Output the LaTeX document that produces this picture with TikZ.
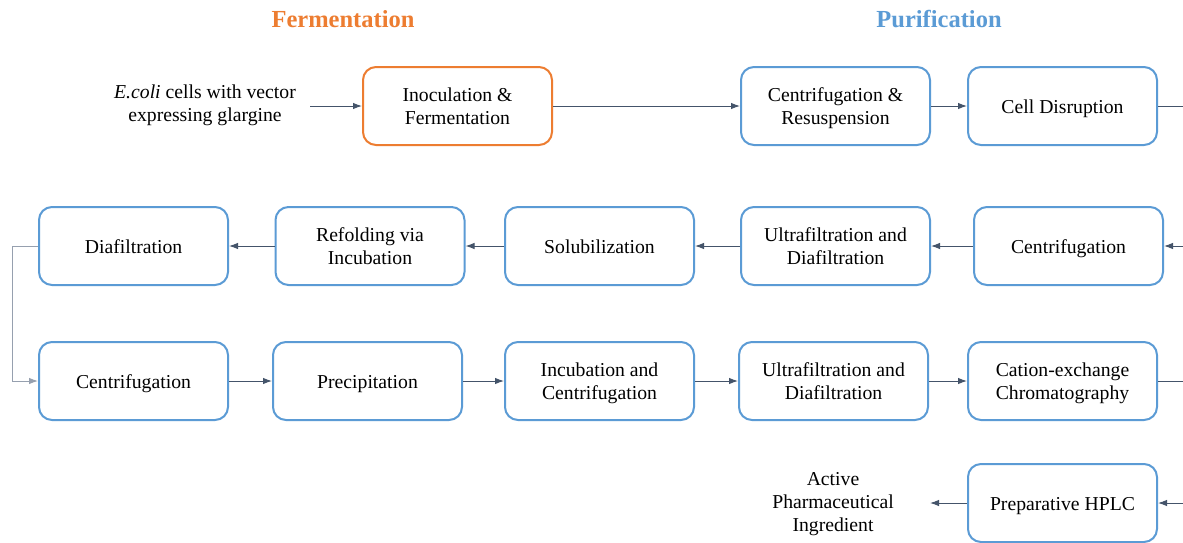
\documentclass[tikz,border=0pt]{standalone}
\usepackage{fontspec}
\setmainfont{Liberation Serif}
\usetikzlibrary{arrows.meta}
\definecolor{fermorange}{RGB}{237,125,49}
\definecolor{purblue}{RGB}{91,155,213}
\definecolor{arrowgray}{RGB}{68,84,106}
\definecolor{linkgray}{RGB}{150,160,175}
% box labels: centred lines, set a little below the optical centre
\newcommand\steplabel[1]{\raisebox{-2.5pt}[\height][\depth]{\begin{tabular}{@{}c@{}}#1\end{tabular}}}
\tikzset{
  stepbox/.style={draw=purblue, line width=2pt, rounded corners=13pt,
    minimum width=189pt, minimum height=78pt, inner sep=2pt,
    font=\fontsize{19.7}{23}\selectfont},
  fermbox/.style={stepbox, draw=fermorange},
  plain/.style={align=center, font=\fontsize{19.7}{23}\selectfont},
  heading/.style={font=\fontsize{24.5}{28}\selectfont\bfseries},
  flow/.style={draw=arrowgray, line width=1pt, -{Latex[length=9pt,width=6.5pt]}},
  link/.style={draw=arrowgray, line width=1pt}
}
\begin{document}
\begin{tikzpicture}[x=1pt,y=-1pt]
\clip (0,0) rectangle (1183,542);
\fill[white] (0,0) rectangle (1183,542);

% headings
\node[heading, text=fermorange] (hferm) at (343,19) {Fermentation};
\node[heading, text=purblue] (hpur) at (939,19) {Purification};

% row 1
\node[plain] (ecoli) at (205,105.5) {\textit{E.coli} cells with vector\\expressing glargine};
\coordinate (e0) at (310,106);
\node[fermbox] (inoc) at (457.5,106) {\steplabel{Inoculation \&\\Fermentation}};
\node[stepbox] (cenres) at (835.5,106) {\steplabel{Centrifugation \&\\Resuspension}};
\node[stepbox] (disr) at (1062.5,106) {\steplabel{Cell Disruption}};
\coordinate (out1) at (1190,106);

% row 2
\coordinate (in2) at (1190,246);
\node[stepbox] (cent2) at (1068.5,246) {\steplabel{Centrifugation}};
\node[stepbox] (uf2) at (835.5,246) {\steplabel{Ultrafiltration and\\Diafiltration}};
\node[stepbox] (solub) at (599.5,246) {\steplabel{Solubilization}};
\node[stepbox] (refold) at (370,246) {\steplabel{Refolding via\\Incubation}};
\node[stepbox] (diaf) at (133.5,246) {\steplabel{Diafiltration}};

% row 3
\node[stepbox] (cent3) at (133.5,381) {\steplabel{Centrifugation}};
\node[stepbox] (precip) at (367.5,381) {\steplabel{Precipitation}};
\node[stepbox] (incub) at (599.5,381) {\steplabel{Incubation and\\Centrifugation}};
\node[stepbox] (uf3) at (833.5,381) {\steplabel{Ultrafiltration and\\Diafiltration}};
\node[stepbox] (cation) at (1062.5,381) {\steplabel{Cation-exchange\\Chromatography}};
\coordinate (out3) at (1190,381);

% row 4
\coordinate (in4) at (1190,503);
\node[stepbox] (hplc) at (1062.5,503) {\steplabel{Preparative HPLC}};
\node[plain] (api) at (833,504) {Active\\Pharmaceutical\\Ingredient};

% connectors
\draw[flow] (e0) -- (inoc.west);
\draw[flow] (inoc.east) -- (cenres.west);
\draw[flow] (cenres.east) -- (disr.west);
\draw[link] (disr.east) -- (out1);

\draw[flow] (in2) -- (cent2.east);
\draw[flow] (cent2.west) -- (uf2.east);
\draw[flow] (uf2.west) -- (solub.east);
\draw[flow] (solub.west) -- (refold.east);
\draw[flow] (refold.west) -- (diaf.east);
\draw[flow, draw=linkgray] (diaf.west) -- ++(-26,0) coordinate (bend) |- (cent3.west);

\draw[flow] (cent3.east) -- (precip.west);
\draw[flow] (precip.east) -- (incub.west);
\draw[flow] (incub.east) -- (uf3.west);
\draw[flow] (uf3.east) -- (cation.west);
\draw[link] (cation.east) -- (out3);

\draw[flow] (in4) -- (hplc.east);
\draw[flow] (hplc.west) -- ++(-37,0) coordinate (apiend);
\end{tikzpicture}
\end{document}
